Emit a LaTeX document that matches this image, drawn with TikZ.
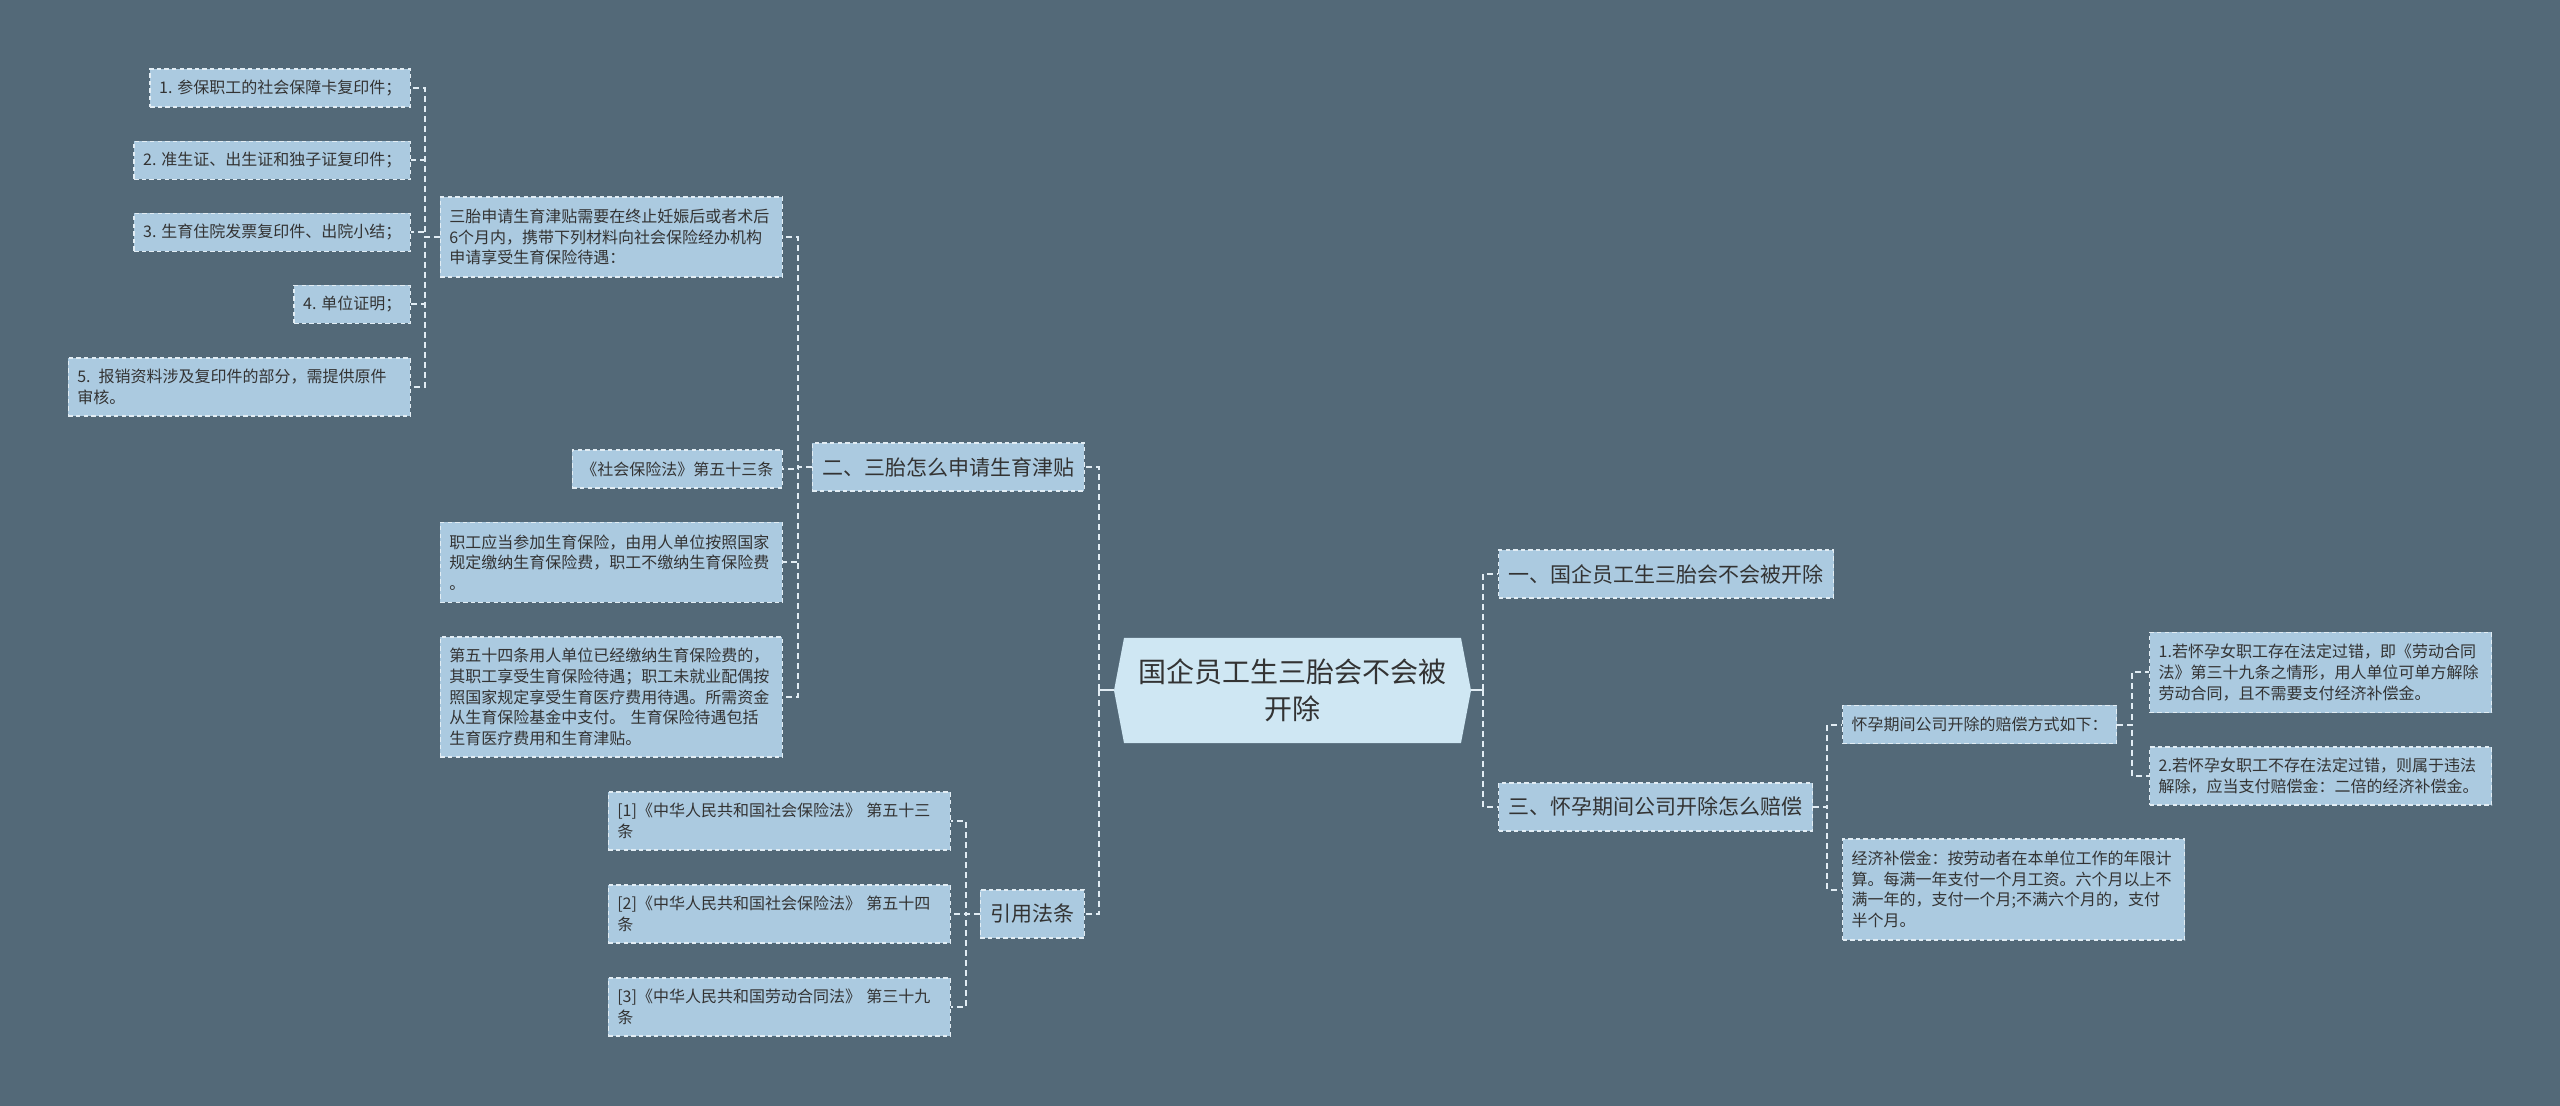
\documentclass[tikz,border=0pt]{standalone}
\usepackage{fontspec}
\setmainfont{Noto Sans CJK SC}
\definecolor{slate}{RGB}{83,105,120}
\definecolor{leaffill}{RGB}{171,202,224}
\definecolor{rootfill}{RGB}{207,231,243}
\definecolor{edge}{RGB}{226,237,244}
\definecolor{ink}{RGB}{51,51,51}
\begin{document}
\begin{tikzpicture}[x=.5pt,y=-.5pt,
  leaf/.style={draw=edge,line width=.7pt,dash pattern=on 2.2pt off 1.6pt,fill=leaffill,text=ink,
    font=\fontsize{8pt}{10.3pt}\selectfont,inner xsep=4.5pt,inner ysep=2pt,align=left,minimum height=19pt},
  wide/.style={text width=162pt},
  topic/.style={leaf,font=\fontsize{10.5pt}{13pt}\selectfont,inner xsep=5pt,minimum height=24pt},
  link/.style={draw=edge,line width=1pt,dash pattern=on 3pt off 2pt},
  stub/.style={draw=edge,line width=1pt}]
\fill[slate] (0,0) rectangle (2560,1106);
% centre
\fill[rootfill] (1124,638)--(1461,638)--(1471,690.5)--(1461,743)--(1124,743)--(1114,690.5)--cycle;
\node[text=ink,font=\fontsize{14pt}{18.5pt}\selectfont,align=center,minimum width=178.5pt,minimum height=52.5pt,inner sep=0pt]
  (root) at (1292.5,690.5) {国企员工生三胎会不会被\\开除};
% left side
\node[topic,anchor=east] (t2) at (1085,467) {二、三胎怎么申请生育津贴};
\node[topic,anchor=east] (cite) at (1085,914) {引用法条};
\node[leaf,wide,anchor=east,minimum height=40pt] (apply) at (783,237) {三胎申请生育津贴需要在终止妊娠后或者术后\\6个月内，携带下列材料向社会保险经办机构\\申请享受生育保险待遇：};
\node[leaf,anchor=east] (law53) at (783,469) {《社会保险法》第五十三条};
\node[leaf,wide,anchor=east,minimum height=40pt] (pay) at (783,562.5) {职工应当参加生育保险，由用人单位按照国家\\规定缴纳生育保险费，职工不缴纳生育保险费\\。};
\node[leaf,wide,anchor=east,minimum height=60pt] (art54) at (783,697) {第五十四条用人单位已经缴纳生育保险费的，\\其职工享受生育保险待遇；职工未就业配偶按\\照国家规定享受生育医疗费用待遇。所需资金\\从生育保险基金中支付。 生育保险待遇包括\\生育医疗费用和生育津贴。};
\node[leaf,anchor=east] (m1) at (411,88) {1. 参保职工的社会保障卡复印件；};
\node[leaf,anchor=east] (m2) at (411,160.5) {2. 准生证、出生证和独子证复印件；};
\node[leaf,anchor=east] (m3) at (411,232.5) {3. 生育住院发票复印件、出院小结；};
\node[leaf,anchor=east] (m4) at (411,304.5) {4. 单位证明；};
\node[leaf,wide,anchor=east,minimum height=29pt] (m5) at (411,387) {5. 报销资料涉及复印件的部分，需提供原件\\审核。};
\node[leaf,wide,anchor=east,minimum height=29pt] (ref1) at (951,821) {[1]《中华人民共和国社会保险法》 第五十三\\条};
\node[leaf,wide,anchor=east,minimum height=29pt] (ref2) at (951,914) {[2]《中华人民共和国社会保险法》 第五十四\\条};
\node[leaf,wide,anchor=east,minimum height=29pt] (ref3) at (951,1007) {[3]《中华人民共和国劳动合同法》 第三十九\\条};
% right side
\node[topic,anchor=west] (t1) at (1498,574) {一、国企员工生三胎会不会被开除};
\node[topic,anchor=west] (t3) at (1498,807) {三、怀孕期间公司开除怎么赔偿};
\node[leaf,anchor=west] (way) at (1842,724.5) {怀孕期间公司开除的赔偿方式如下：};
\node[leaf,wide,anchor=west,minimum height=50.5pt] (comp) at (1842,889.5) {经济补偿金：按劳动者在本单位工作的年限计\\算。每满一年支付一个月工资。六个月以上不\\满一年的，支付一个月;不满六个月的，支付\\半个月。};
\node[leaf,wide,anchor=west,minimum height=40pt] (case1) at (2149,672.5) {1.若怀孕女职工存在法定过错，即《劳动合同\\法》第三十九条之情形，用人单位可单方解除\\劳动合同，且不需要支付经济补偿金。};
\node[leaf,wide,anchor=west,minimum height=29pt] (case2) at (2149,776) {2.若怀孕女职工不存在法定过错，则属于违法\\解除，应当支付赔偿金：二倍的经济补偿金。};
% connectors
\draw[stub] (root.west) -- ++(-15,0);
\draw[stub] (root.east) -- ++(12,0);
\foreach \c in {t2,cite} \draw[link] (root.west) ++(-15,0) |- (\c.east);
\foreach \c in {t1,t3} \draw[link] (root.east) ++(12,0) |- (\c.west);
\foreach \c in {apply,law53,pay,art54} \draw[link] (t2.west) -- ++(-14,0) |- (\c.east);
\foreach \c in {m1,m2,m3,m4,m5} \draw[link] (apply.west) -- ++(-15,0) |- (\c.east);
\foreach \c in {ref1,ref2,ref3} \draw[link] (cite.west) -- ++(-14,0) |- (\c.east);
\foreach \c in {way,comp} \draw[link] (t3.east) -- ++(14,0) |- (\c.west);
\foreach \c in {case1,case2} \draw[link] (way.east) -- ++(15,0) |- (\c.west);
\end{tikzpicture}
\end{document}
